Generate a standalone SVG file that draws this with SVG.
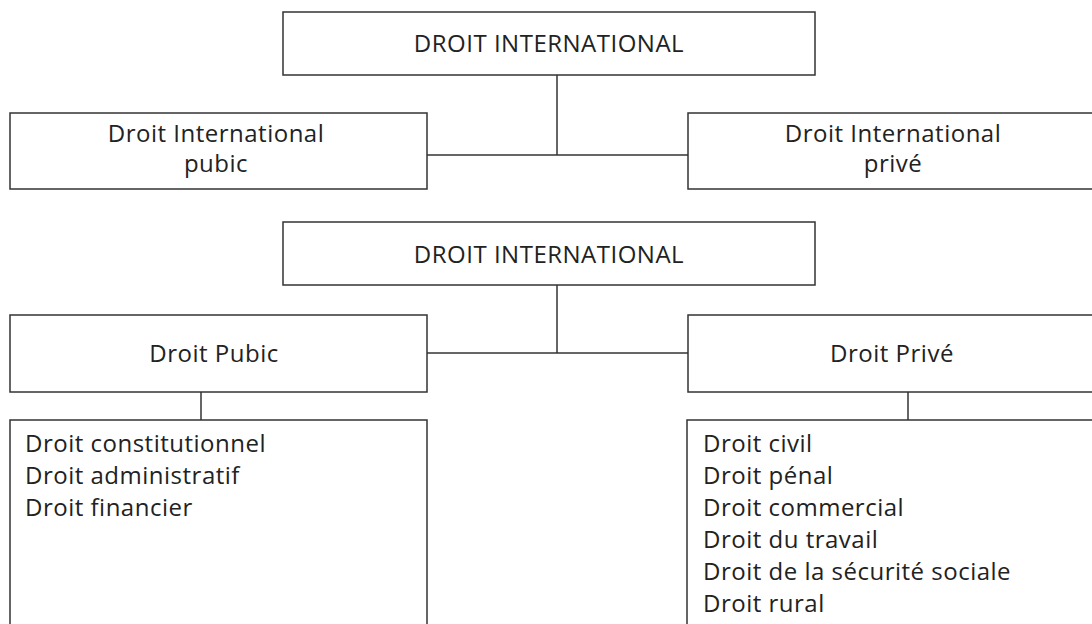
<svg xmlns="http://www.w3.org/2000/svg" width="1092" height="624" viewBox="0 0 1092 624">
<style>
rect{fill:#fff;stroke:#333;stroke-width:1.5}
.c line{stroke:#333;stroke-width:1.5}
text{font-family:"Open Sans",Lato,sans-serif;font-size:24px;letter-spacing:0.5px;fill:#222}
.m{text-anchor:middle}
</style>
<rect x="0" y="0" width="1092" height="624" style="stroke:none"/>
<g class="c" id="connectors">
<line x1="557" y1="75" x2="557" y2="155"/>
<line x1="427" y1="155" x2="688" y2="155"/>
<line x1="557" y1="285" x2="557" y2="353"/>
<line x1="427" y1="353" x2="688" y2="353"/>
<line x1="201" y1="392" x2="201" y2="420"/>
<line x1="908" y1="392" x2="908" y2="420"/>
</g>
<g id="top1"><rect x="283" y="12" width="532" height="63"/><text class="m" x="549" y="52">DROIT INTERNATIONAL</text></g>
<g id="dipub"><rect x="10" y="113" width="417" height="76"/><text class="m" x="216" y="142">Droit International</text><text class="m" x="216" y="172">pubic</text></g>
<g id="dipriv"><rect x="688" y="113" width="412" height="76"/><text class="m" x="893" y="142">Droit International</text><text class="m" x="893" y="172">privé</text></g>
<g id="top2"><rect x="283" y="222" width="532" height="63"/><text class="m" x="549" y="263">DROIT INTERNATIONAL</text></g>
<g id="dpub"><rect x="10" y="315" width="417" height="77"/><text class="m" x="214" y="362">Droit Pubic</text></g>
<g id="dpriv"><rect x="688" y="315" width="412" height="77"/><text class="m" x="892" y="362">Droit Privé</text></g>
<g id="listpub"><rect x="10" y="420" width="417" height="220"/>
<text x="25" y="452">Droit constitutionnel</text>
<text x="25" y="484">Droit administratif</text>
<text x="25" y="516">Droit financier</text></g>
<g id="listpriv"><rect x="687" y="420" width="420" height="220"/>
<text x="703" y="452">Droit civil</text>
<text x="703" y="484">Droit pénal</text>
<text x="703" y="516">Droit commercial</text>
<text x="703" y="548">Droit du travail</text>
<text x="703" y="580">Droit de la sécurité sociale</text>
<text x="703" y="612">Droit rural</text></g>
</svg>
